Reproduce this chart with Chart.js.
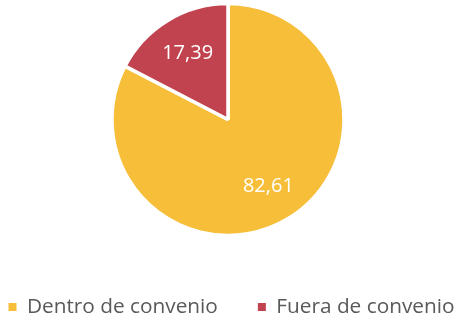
<!DOCTYPE html>
<html>
<head>
<meta charset="utf-8">
<script src="https://cdn.jsdelivr.net/npm/chart.js@4"></script>
<style>
  html, body { margin: 0; padding: 0; background: #fff; }
  #wrap { width: 456px; height: 323px; }
</style>
</head>
<body>
<div id="wrap"><canvas id="convenioChart"></canvas></div>
<script>
const categories = ['Dentro de convenio', 'Fuera de convenio'];
const values = [82.61, 17.39];
const sliceColors = ['#F7BE3A', '#C0434F'];

// writes each value inside its slice, comma as decimal separator
const sliceLabels = {
    id: 'sliceLabels',
    afterDatasetsDraw(chart) {
        const ctx = chart.ctx;
        const meta = chart.getDatasetMeta(0);
        ctx.save();
        ctx.fillStyle = '#ffffff';
        ctx.font = '20px "Open Sans"';
        ctx.textAlign = 'center';
        ctx.textBaseline = 'middle';
        meta.data.forEach((arc, i) => {
            const mid = (arc.startAngle + arc.endAngle) / 2;
            const r = arc.outerRadius * 0.67;
            const x = arc.x + Math.cos(mid) * r;
            const y = arc.y + Math.sin(mid) * r;
            ctx.fillText(values[i].toFixed(2).replace('.', ','), x, y);
        });
        ctx.restore();
    }
};

// nudges the legend row a little to the right of the pie's centre line
const legendShift = {
    id: 'legendShift',
    afterLayout(chart) {
        chart.legend.left += 5;
        chart.legend.right += 5;
    }
};

document.addEventListener("DOMContentLoaded", () => {
    const ctx = document.getElementById("convenioChart").getContext("2d");
    const defaultLabels = Chart.overrides.pie.plugins.legend.labels.generateLabels;

    new Chart(ctx, {
        type: 'pie',
        data: {
            labels: categories,
            datasets: [{
                data: values,
                backgroundColor: sliceColors,
                borderColor: '#ffffff',
                borderWidth: 3.5
            }]
        },
        options: {
            responsive: true,
            maintainAspectRatio: false,
            animation: false,
            // negative sides give the wide legend row room for its spacing
            layout: {
                padding: { top: 1.75, bottom: -4.4, left: -44, right: -41 }
            },
            plugins: {
                tooltip: { enabled: false },
                legend: {
                    position: 'bottom',
                    title: {
                        display: true,
                        text: '',
                        padding: { top: 4.95, bottom: 0 }
                    },
                    labels: {
                        usePointStyle: true,
                        pointStyle: 'rect',
                        boxWidth: 8,
                        boxHeight: 8,
                        padding: 40,
                        color: '#595959',
                        font: { family: 'Open Sans', size: 20.8 },
                        // plain filled squares, no white slice border
                        generateLabels: (chart) => defaultLabels(chart).map(item => ({ ...item, lineWidth: 0 }))
                    }
                }
            }
        },
        plugins: [sliceLabels, legendShift]
    });
});
</script>
</body>
</html>
